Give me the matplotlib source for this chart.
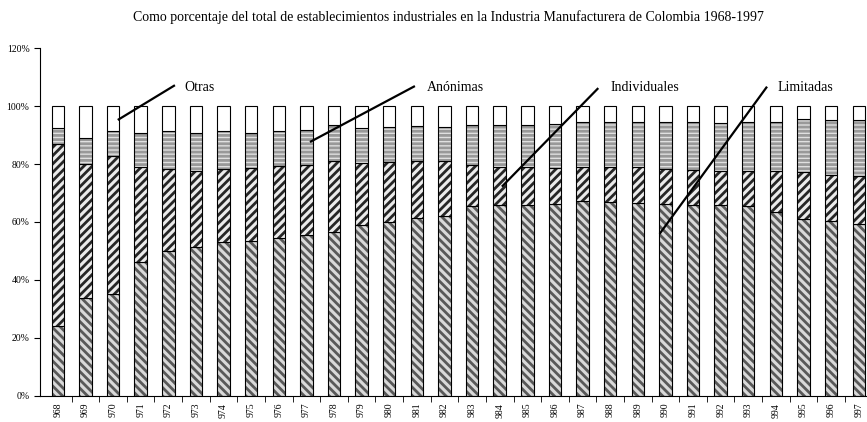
import numpy as np
import matplotlib
matplotlib.use('Agg')
import matplotlib.pyplot as plt

plt.rcParams['font.family'] = ['Liberation Serif', 'DejaVu Serif']
plt.rcParams['hatch.linewidth'] = 2.0

years = list(range(1968, 1998))
etiquetas = [str(a)[1:] for a in years]   # el original muestra "968", "969", ...

limitadas = [24.0, 33.9, 35.3, 46.2, 50.1, 51.5, 53.0, 53.6, 54.6, 55.6,
             56.4, 58.9, 59.9, 61.3, 62.0, 65.5, 65.7, 65.7, 66.3, 67.1,
             66.9, 66.7, 66.3, 65.7, 66.0, 65.4, 63.4, 61.1, 60.3, 59.4]
individuales = [63.0, 46.0, 47.6, 32.9, 28.1, 26.2, 25.2, 25.0, 24.6, 24.2,
                24.6, 21.3, 20.9, 19.7, 19.0, 14.3, 13.3, 13.2, 12.4, 11.8,
                12.0, 12.3, 11.9, 12.2, 11.5, 12.2, 14.1, 16.0, 16.0, 16.6]
anonimas = [5.5, 9.0, 8.4, 11.7, 13.1, 13.1, 13.1, 12.2, 12.1, 11.9,
            12.3, 12.3, 12.1, 12.1, 11.9, 13.8, 14.6, 14.7, 15.1, 15.6,
            15.6, 15.5, 16.3, 16.7, 16.5, 16.8, 17.0, 18.4, 19.0, 19.3]
otras = [7.5, 11.1, 8.7, 9.2, 8.7, 9.2, 8.7, 9.2, 8.7, 8.3,
         6.7, 7.5, 7.1, 6.9, 7.1, 6.4, 6.4, 6.4, 6.2, 5.5,
         5.5, 5.5, 5.5, 5.4, 6.0, 5.6, 5.5, 4.5, 4.7, 4.7]

x = np.arange(len(years))
ancho = 0.45

fig = plt.figure(figsize=(8.67, 4.22), dpi=100)
ax = fig.add_axes([0.046, 0.062, 0.954, 0.824])

series = [limitadas, individuales, anonimas, otras]
estilos = [('0.85', '0.35', '\\\\\\\\'),
           ('0.92', '0.15', '////'),
           ('0.88', '0.6', '----'),
           ('white', 'white', None)]
base = np.zeros(len(years))
for vals, (cara, trama, hatch) in zip(series, estilos):
    vals = np.array(vals)
    ax.bar(x, vals, ancho, bottom=base, color=cara, edgecolor=trama,
           hatch=hatch, linewidth=0)
    ax.bar(x, vals, ancho, bottom=base, fill=False, edgecolor='black',
           linewidth=0.8)
    base += vals

ax.set_xlim(-0.65, 29.3)
ax.set_ylim(0, 120)
ax.set_yticks(range(0, 121, 20))
ax.set_yticklabels([f'{v}%' for v in range(0, 121, 20)], fontsize=7)
ax.set_xticks(x)
ax.set_xticklabels(etiquetas, rotation=90, fontsize=7)
ax.set_xticks(x[1:] - 0.5, minor=True)
ax.tick_params(axis='x', which='major', length=0, pad=5)
ax.tick_params(axis='x', which='minor', length=4, direction='out')
ax.tick_params(axis='y', length=4, direction='out')
ax.spines['top'].set_visible(False)
ax.spines['right'].set_visible(False)

# rótulos con líneas
rotulos = [('Otras', (4.24, 107.2), (2.17, 95.2), 4.6),
           ('Anónimas', (12.93, 106.9), (9.13, 87.6), 13.37),
           ('Individuales', (19.57, 106.2), (16.08, 72.2), 20.0),
           ('Limitadas', (25.68, 106.7), (21.79, 55.9), 26.05)]
for txt, ini, fin, xt in rotulos:
    ax.plot([ini[0], fin[0]], [ini[1], fin[1]], color='black', lw=1.6,
            solid_capstyle='butt')
    ax.text(xt, 106.5, txt, fontsize=10, va='center', ha='left')

fig.text(0.517, 0.96, 'Como porcentaje del total de establecimientos industriales '
         'en la Industria Manufacturera de Colombia 1968-1997',
         ha='center', va='center', fontsize=10)

fig.savefig('out.png', dpi=100)
